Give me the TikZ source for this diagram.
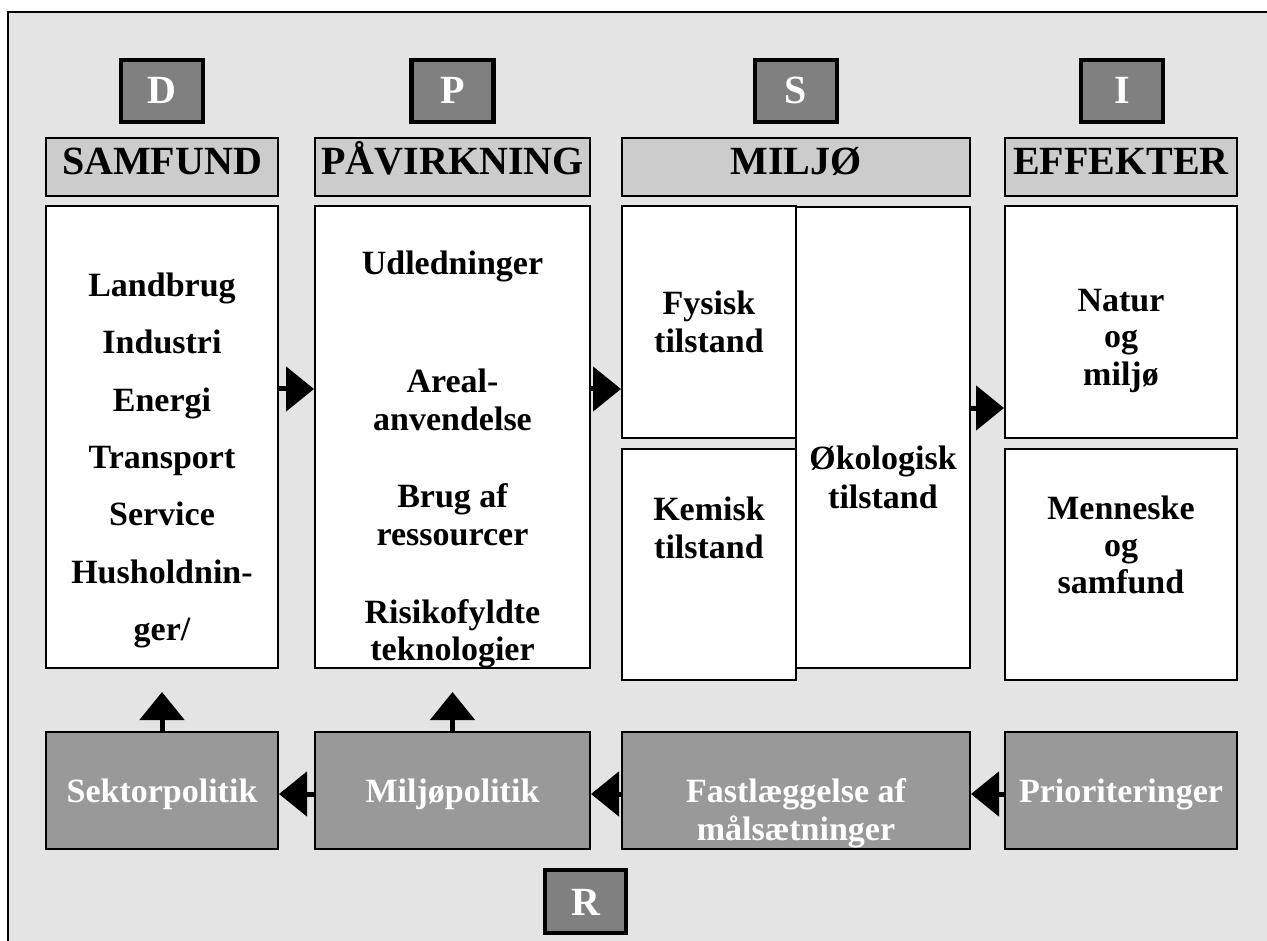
\documentclass[tikz,border=0pt]{standalone}
\usepackage{fontspec}
\setmainfont{Liberation Serif}
\usetikzlibrary{arrows.meta}
\definecolor{bgc}{HTML}{E4E4E4}
\definecolor{hdrc}{HTML}{CCCCCC}
\definecolor{letc}{HTML}{808080}
\definecolor{polc}{HTML}{999999}
\newcommand\bodyf{\bfseries\fontsize{34}{40}\selectfont}
\newcommand\hdrf{\bfseries\fontsize{40}{46}\selectfont}
\tikzset{
  letbox/.style={draw, line width=4.5pt, fill=letc, minimum width=82pt, minimum height=62pt, inner sep=0pt, text=white, font=\hdrf},
  hdrbox/.style={draw, line width=2pt, fill=hdrc, minimum height=58pt, inner sep=0pt},
  whbox/.style={draw, line width=2pt, fill=white, inner sep=0pt},
  polbox/.style={draw, line width=2pt, fill=polc, minimum height=117pt, inner sep=0pt},
  txt/.style={anchor=base, inner sep=0pt, font=\bodyf},
  htxt/.style={anchor=base, inner sep=0pt, font=\hdrf},
  wtxt/.style={anchor=base, inner sep=0pt, font=\bodyf, text=white},
  arr/.style={line width=5pt, -{Triangle[length=28pt,width=44pt]}}
}
\begin{document}
\begin{tikzpicture}[x=1pt,y=-1pt]
\useasboundingbox (0,0) rectangle (1267,941);
\fill[white] (0,0) rectangle (1267,941);
\fill[bgc] (8,12) rectangle (1267,941);
\draw[line width=2.2pt] (8,941) -- (8,12) -- (1267,12);

% letter boxes
\node[letbox] (D) at (162,91) {};
\node[letbox] (P) at (452.5,91) {};
\node[letbox] (S) at (796,91) {};
\node[letbox] (I) at (1122,91) {};
\node[letbox, minimum width=81pt, minimum height=63pt] (R) at (585.5,901.5) {};
\node[htxt, text=white] (Dt) at (162,104) {D};
\node[htxt, text=white] (Pt) at (452.5,104) {P};
\node[htxt, text=white] (St) at (796,104) {S};
\node[htxt, text=white] (It) at (1122,104) {I};
\node[htxt, text=white] (Rt) at (585.5,915) {R};

% headers
\node[hdrbox, minimum width=232pt] (samH) at (162,167) {};
\node[hdrbox, minimum width=275pt] (pavH) at (452.5,167) {};
\node[hdrbox, minimum width=348pt] (milH) at (796,167) {};
\node[hdrbox, minimum width=232pt] (effH) at (1121,167) {};
\node[htxt] (samT) at (162,175) {SAMFUND};
\node[htxt] (pavT) at (452.5,175) {PÅVIRKNING};
\node[htxt] (milT) at (796,175) {MILJØ};
\node[htxt] (effT) at (1121,175) {EFFEKTER};

% white boxes
\node[whbox, minimum width=232pt, minimum height=462pt] (samB) at (162,437) {};
\node[whbox, minimum width=275pt, minimum height=462pt] (pavB) at (452.5,437) {};
\node[whbox, minimum width=174pt, minimum height=232pt] (fysB) at (709,322) {};
\node[whbox, minimum width=174pt, minimum height=231pt] (kemB) at (709,564.5) {};
\node[whbox, minimum width=174pt, minimum height=461pt] (okoB) at (883,437.5) {};
\node[whbox, minimum width=232pt, minimum height=232pt] (natB) at (1121,322) {};
\node[whbox, minimum width=232pt, minimum height=231pt] (menB) at (1121,564.5) {};

% SAMFUND texts
\node[txt] (s1) at (162,297) {Landbrug};
\node[txt] (s2) at (162,354) {Industri};
\node[txt] (s3) at (162,411) {Energi};
\node[txt] (s4) at (162,468) {Transport};
\node[txt] (s5) at (162,525) {Service};
\node[txt] (s6) at (162,583) {Husholdnin-};
\node[txt] (s7) at (162,640) {ger/};

% PAVIRKNING texts
\node[txt] (p1) at (452.5,275) {Udledninger};
\node[txt] (p2) at (452.5,392) {Areal-};
\node[txt] (p3) at (452.5,430) {anvendelse};
\node[txt] (p4) at (452.5,507) {Brug af};
\node[txt] (p5) at (452.5,545) {ressourcer};
\node[txt] (p6) at (452.5,623) {Risikofyldte};
\node[txt] (p7) at (452.5,660) {teknologier};

% MILJO texts
\node[txt] (m1) at (709,315) {Fysisk};
\node[txt] (m2) at (709,353) {tilstand};
\node[txt] (m3) at (709,520) {Kemisk};
\node[txt] (m4) at (709,558) {tilstand};
\node[txt] (m5) at (883,469) {Økologisk};
\node[txt] (m6) at (883,508) {tilstand};

% EFFEKTER texts
\node[txt] (e1) at (1121,312) {Natur};
\node[txt] (e2) at (1121,348) {og};
\node[txt] (e3) at (1121,385) {miljø};
\node[txt] (e4) at (1121,519) {Menneske};
\node[txt] (e5) at (1121,556) {og};
\node[txt] (e6) at (1121,593) {samfund};

% policy boxes
\node[polbox, minimum width=232pt] (sekB) at (162,790.5) {};
\node[polbox, minimum width=275pt] (mpoB) at (452.5,790.5) {};
\node[polbox, minimum width=348pt] (fasB) at (796,790.5) {};
\node[polbox, minimum width=232pt] (priB) at (1121,790.5) {};
\node[wtxt] (b1) at (162,802) {Sektorpolitik};
\node[wtxt] (b2) at (452.5,802) {Miljøpolitik};
\node[wtxt] (b3) at (796,802) {Fastlæggelse af};
\node[wtxt] (b4) at (796,840) {målsætninger};
\node[wtxt] (b5) at (1121,802) {Prioriteringer};

% arrows
\coordinate (u1) at (162,692);
\coordinate (u2) at (452.5,692);
\draw[arr] (samB.east |- 0,389) -- (pavB.west |- 0,389);
\draw[arr] (pavB.east |- 0,389) -- (fysB.west |- 0,389);
\draw[arr] (okoB.east |- 0,408) -- (natB.west |- 0,408);
\draw[arr] (priB.west |- 0,794) -- (fasB.east |- 0,794);
\draw[arr] (fasB.west |- 0,794) -- (mpoB.east |- 0,794);
\draw[arr] (mpoB.west |- 0,794) -- (sekB.east |- 0,794);
\draw[arr] (sekB.north) -- (u1);
\draw[arr] (mpoB.north) -- (u2);
\end{tikzpicture}
\end{document}
